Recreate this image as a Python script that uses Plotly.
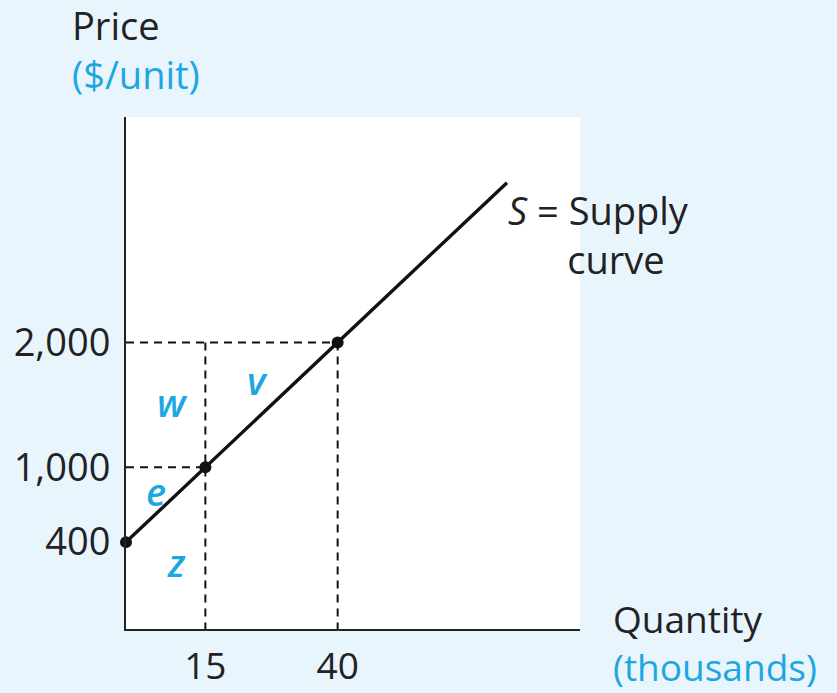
import plotly.graph_objects as go

# Data (supply curve S)
quantity = [0, 15, 40]          # thousands
price = [400, 1000, 2000]       # $/unit
curve_q = [0, 15, 40, 72]       # line extends beyond the last marked point
curve_p = [400, 1000, 2000, 3280]
x_ticks = [15, 40]
y_ticks = [400, 1000, 2000]
area_labels = ["w", "v", "e", "z"]
area_q = [8.7, 24.8, 5.7, 9.5]
area_p = [1523, 1700, 813, 243]

X_RANGE = [0, 85.8]
Y_RANGE = [-296, 3806]

BLUE = "#1ea6e3"
BG = "#e8f5fd"
FONT = "Open Sans"
FS = 38

fig = go.Figure()

dash = "8px,6px"
dline = dict(color="#111", width=2, dash=dash)
# dashed guide lines
fig.add_trace(go.Scatter(x=[0, quantity[2]], y=[price[2], price[2]], mode="lines",
                         line=dline, hoverinfo="skip"))
fig.add_trace(go.Scatter(x=[0, quantity[1]], y=[price[1], price[1]], mode="lines",
                         line=dline, hoverinfo="skip"))
fig.add_trace(go.Scatter(x=[quantity[1], quantity[1]], y=[price[2], Y_RANGE[0]], mode="lines",
                         line=dline, hoverinfo="skip"))
fig.add_trace(go.Scatter(x=[quantity[2], quantity[2]], y=[price[2], Y_RANGE[0]], mode="lines",
                         line=dline, hoverinfo="skip"))

# supply curve
fig.add_trace(go.Scatter(x=curve_q, y=curve_p, mode="lines",
                         line=dict(color="#111", width=3.4), hoverinfo="skip"))
fig.add_trace(go.Scatter(x=quantity, y=price, mode="markers",
                         marker=dict(color="#111", size=12, symbol="circle"),
                         cliponaxis=False, hoverinfo="skip"))

annotations = []
for lab, q, p in zip(area_labels, area_q, area_p):
    annotations.append(dict(x=q, y=p, xref="x", yref="y", text=f"<i>{lab}</i>",
                            showarrow=False,
                            font=dict(family=FONT, size=FS, color=BLUE, weight=600)))

NB = "&nbsp;"
annotations += [
    dict(x=curve_q[-1], y=curve_p[-1], xref="x", yref="y",
         text="<i>S</i> = Supply<br>" + NB * 6 + "curve",
         showarrow=False, xanchor="left", yanchor="top", align="left",
         xshift=-1, yshift=1,
         font=dict(family=FONT, size=FS, color="#222")),
    dict(x=-0.1233, y=1.1328, xref="paper", yref="paper",
         text=f"Price<br><span style='color:{BLUE}'>($/unit)</span>",
         showarrow=False, xanchor="left", yanchor="middle", align="left",
         font=dict(family=FONT, size=FS, color="#222")),
    dict(x=1.068, y=-0.127, xref="paper", yref="paper",
         text=f"Quantity<br><span style='color:{BLUE}'>(thousands)</span>",
         showarrow=False, xanchor="left", yanchor="bottom", align="left",
         font=dict(family=FONT, size=37, color="#222")),
]

fig.update_layout(
    width=837, height=693,
    margin=dict(l=126, r=257, t=117, b=64),
    paper_bgcolor=BG, plot_bgcolor="white",
    showlegend=False,
    annotations=annotations,
    font=dict(family=FONT, size=FS, color="#222"),
)
fig.update_xaxes(range=X_RANGE, tickvals=x_ticks, showgrid=False, zeroline=False,
                 showline=True, linecolor="#222", linewidth=2, ticks="",
                 automargin=False, ticklabelstandoff=4,
                 tickfont=dict(family=FONT, size=37, color="#222"))
fig.update_yaxes(range=Y_RANGE, tickvals=y_ticks, tickformat=",", showgrid=False,
                 zeroline=False, showline=True, linecolor="#222", linewidth=2, ticks="",
                 automargin=False, ticklabelstandoff=6,
                 tickfont=dict(family=FONT, size=FS, color="#222"))

fig.write_html(
    "out.html",
    config={"displayModeBar": False},
    post_script="document.body.style.margin='0';document.body.style.background='" + BG + "';",
)
